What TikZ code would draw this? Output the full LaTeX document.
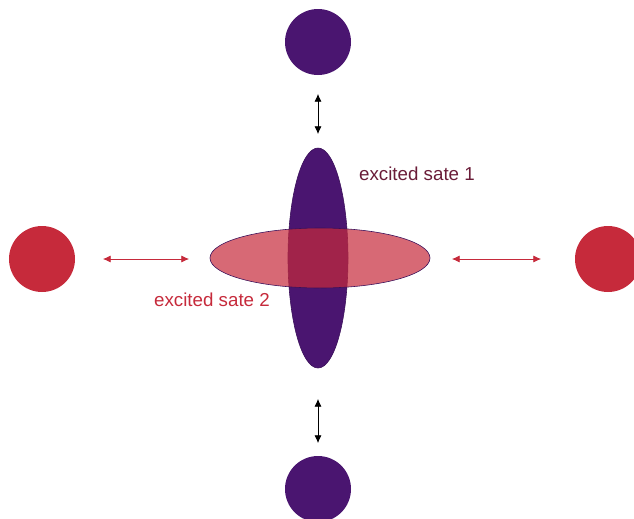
\documentclass[tikz,border=0pt]{standalone}
\usepackage{fontspec}
\setmainfont{Liberation Sans}
\usepackage{tikz}
\usetikzlibrary{arrows.meta,shapes,positioning}
\definecolor{grape}{HTML}{4A1570}
\definecolor{berry}{HTML}{C62A3B}
\definecolor{wine}{HTML}{6A1C38}

\begin{document}
\begin{tikzpicture}[x=0.03cm,y=-0.03cm,
  atom/.style={circle,inner sep=0pt,minimum size=1.98cm},
  orbit/.style={ellipse,inner sep=0pt,draw=grape!80!black,line width=0.5pt},
  link/.style={{Latex[length=6.5pt,width=6pt]}-{Latex[length=6.5pt,width=6pt]},line width=0.6pt}]
  \useasboundingbox (0,0) rectangle (634,518);

  % Atoms
  \node[atom,fill=grape] (top) at (318,42) {};
  \node[atom,fill=grape] (bottom) at (318,489) {};
  \node[atom,fill=berry] (left) at (42,259) {};
  \node[atom,fill=berry] (right) at (608,259) {};

  % Excited states
  \node[orbit,fill=grape,minimum width=1.8cm,minimum height=6.6cm] (vert) at (318,258) {};
  \node[orbit,fill=berry,fill opacity=0.7,minimum width=6.6cm,minimum height=1.8cm] (horiz) at (320,258) {};

  \node[wine,anchor=west,font=\fontsize{16}{18}\selectfont] (lab1) at (355,174) {excited sate 1};
  \node[berry,anchor=west,font=\fontsize{16}{18}\selectfont] (lab2) at (150,300) {excited sate 2};

  % Arrows
  \coordinate (t1) at (318,94);
  \coordinate (t2) at (318,134);
  \coordinate (b1) at (318,399);
  \coordinate (b2) at (318,443);
  \coordinate (l1) at (103,259);
  \coordinate (l2) at (189,259);
  \coordinate (r1) at (452,259);
  \coordinate (r2) at (541,259);
  \draw[link] (t1) -- (t2);
  \draw[link] (b1) -- (b2);
  \draw[link,berry] (l1) -- (l2);
  \draw[link,berry] (r1) -- (r2);

\end{tikzpicture}
\end{document}
